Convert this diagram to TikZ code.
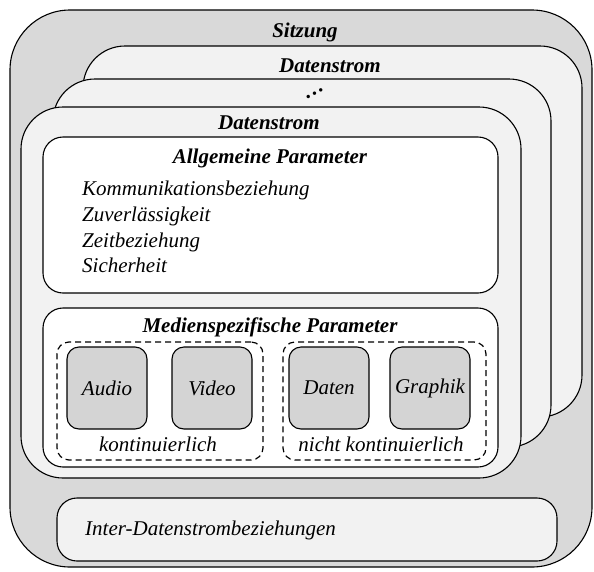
\documentclass[tikz,border=0pt]{standalone}
\usepackage{fontspec}
\setmainfont{Liberation Serif}
\usetikzlibrary{positioning}
\definecolor{sitzgray}{gray}{0.85}
\definecolor{streamgray}{gray}{0.95}
\definecolor{mediagray}{gray}{0.83}
\tikzset{
every node/.style={font=\fontsize{21}{26}\selectfont\itshape, inner sep=0pt}, % italic serif everywhere
frame/.style={draw, line width=1.1pt, rectangle},
sitzbox/.style={frame, fill=sitzgray, rounded corners=60pt}, % outer session box
streambox/.style={frame, fill=streamgray, rounded corners=42pt}, % stacked streams
parambox/.style={frame, fill=white, rounded corners=20pt},
groupbox/.style={draw, line width=1.2pt, dash pattern=on 6pt off 4pt, rounded corners=12pt},
mediabox/.style={frame, fill=mediagray, rounded corners=12pt, minimum width=80pt, minimum height=82pt},
title/.style={font=\fontsize{21}{26}\selectfont\itshape\bfseries},
}

\begin{document}
\begin{tikzpicture}[x=1pt, y=-1pt]
\useasboundingbox (0,0) rectangle (594,571);

% session and the stacked data streams
\node[sitzbox, minimum width=582pt, minimum height=557pt] (sitzung) at (301,288.5) {};
\node[streambox, minimum width=499pt, minimum height=371pt] (stromC) at (332.5,231.5) {};
\node[streambox, minimum width=498pt, minimum height=368pt] (stromB) at (302,263) {};
\node[streambox, minimum width=500pt, minimum height=371pt] (stromA) at (271,292.5) {};

\node[title, anchor=base] (sitzungtitle) at (305,37) {Sitzung};
\node[title, anchor=base] (stromCtitle) at (330,72) {Datenstrom};
\node[title, rotate=28, anchor=base] (dots) at (316,95) {…};
\node[title, anchor=base] (stromAtitle) at (269,129) {Datenstrom};

% general parameters
\node[parambox, minimum width=455pt, minimum height=156pt] (allg) at (270.5,215) {};
\node[title, anchor=base] (allgtitle) at (270,163) {Allgemeine Parameter};
\node[anchor=base west] (kommunikation) at (82,195) {Kommunikationsbeziehung};
\node[anchor=base west] (zuverl) at (82,221) {Zuverlässigkeit};
\node[anchor=base west] (zeit) at (82,247) {Zeitbeziehung};
\node[anchor=base west] (sicherheit) at (82,272) {Sicherheit};

% media specific parameters
\node[parambox, minimum width=455pt, minimum height=159pt] (medien) at (270.5,387.5) {};
\node[title, anchor=base] (medientitle) at (270,332) {Medienspezifische Parameter};

\node[groupbox, minimum width=206pt, minimum height=118pt] (kont) at (160,401) {};
\node[groupbox, minimum width=203pt, minimum height=118pt] (nichtkont) at (384.5,401) {};

\node[mediabox] (audio) at (107,388) {Audio};
\node[mediabox] (video) at (212,388) {Video};
\node[mediabox] (daten) at (329,388) {Daten};
\node[mediabox] (graphik) at (430,388) {Graphik};

\node[anchor=base] (konttext) at (158,451) {kontinuierlich};
\node[anchor=base] (nichtkonttext) at (381,451) {nicht kontinuierlich};

% relations between streams
\node[frame, fill=streamgray, rounded corners=20pt, minimum width=500pt, minimum height=63pt] (inter) at (307,529.5) {};
\node[anchor=base west] (intertext) at (85,535) {Inter-Datenstrombeziehungen};

\end{tikzpicture}
\end{document}
